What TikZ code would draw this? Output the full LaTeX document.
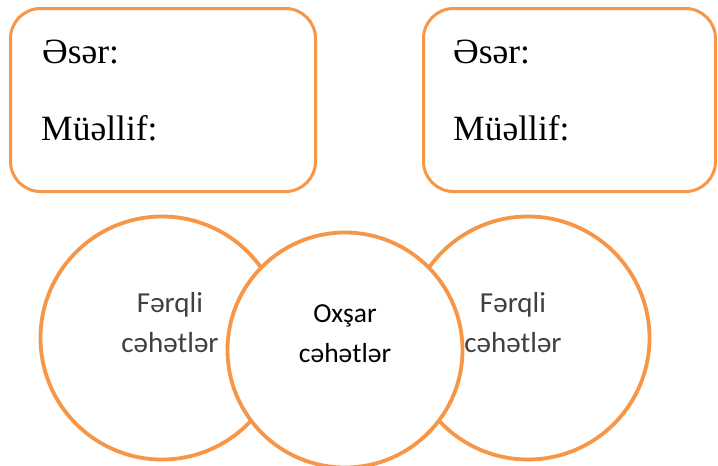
\documentclass[tikz,border=0pt]{standalone}
\usepackage{fontspec}
\setmainfont{Liberation Serif}
\newfontfamily\carlito{Carlito}
\usepackage{tikz}
\usetikzlibrary{positioning,shapes.geometric}
\definecolor{accorange}{HTML}{F79646}
\definecolor{txtgray}{HTML}{404040}

\begin{document}
\begin{tikzpicture}[
    x=1pt, y=-1pt,
    infobox/.style={
		rectangle,
		rounded corners=30pt,
		draw=accorange,
		line width=3pt,
		minimum height=183pt,
		fill=white
	},
	sidecircle/.style={
		circle,
		draw=accorange,
		line width=3.8pt,
		minimum size=243pt,
		inner sep=0pt
	},
	midcircle/.style={
		circle,
		draw=accorange,
		line width=3.8pt,
		minimum size=235pt,
		inner sep=0pt,
		fill=white
	},
	field/.style={
		anchor=base west,
		inner sep=0pt,
		font=\fontsize{35.5}{42}\selectfont
	},
	sidetext/.style={
		align=center,
		text=txtgray,
		inner sep=0pt,
		font=\carlito\fontsize{29}{40}\selectfont
	},
	midtext/.style={
		align=center,
		inner sep=0pt,
		font=\carlito\fontsize{27.5}{40}\selectfont
	}
  ]
  \useasboundingbox (0,0) rectangle (718,466);

  % the two boxes on top
  \node [infobox, minimum width=305pt] (box1) at (163,100) {};
  \node [infobox, minimum width=292pt] (box2) at (569.5,100) {};

  \node [field] (title1) at (42,63) {Əsər:};
  \node [field] (author1) at (41,140) {Müəllif:};
  \node [field] (title2) at (453,63) {Əsər:};
  \node [field] (author2) at (453,140) {Müəllif:};

  % the circles below
  \node [sidecircle] (left) at (162,338) {};
  \node [sidecircle] (right) at (528,338) {};
  \node [midcircle] (middle) at (345,350) {};

  \node [sidetext] (difleft) at (170,323) {Fərqli\\cəhətlər};
  \node [sidetext] (difright) at (513,323) {Fərqli\\cəhətlər};
  \node [midtext] (same) at (345,334) {Oxşar\\cəhətlər};

\end{tikzpicture}
\end{document}
